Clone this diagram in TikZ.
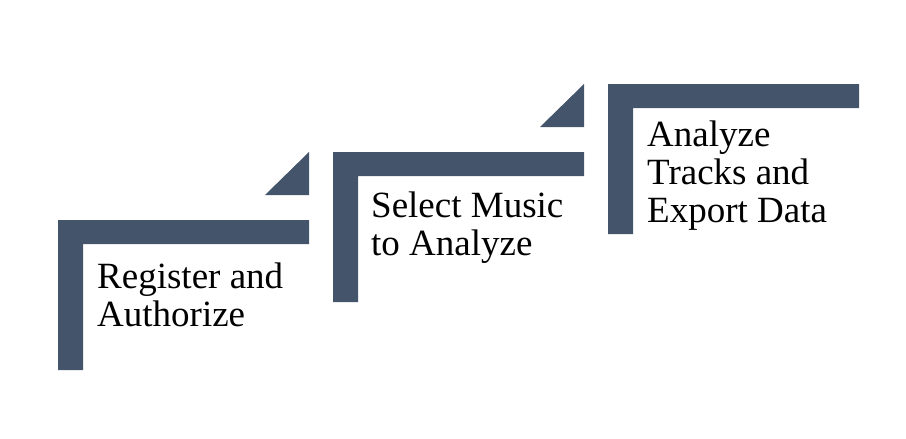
\documentclass[tikz,border=0pt]{standalone}
\usepackage{fontspec}
\setmainfont{Liberation Serif}
\definecolor{slate}{RGB}{68,84,106}

\begin{document}
\begin{tikzpicture}[x=1pt,y=-1pt]
\tikzset{stepbar/.style={fill=slate,draw=none},
  steptext/.style={anchor=base west,inner sep=0pt,align=left,
    font=\fontsize{37}{38}\selectfont}}
\useasboundingbox (0,0) rectangle (906,439);
\foreach \x/\y in {58/220,333/152,608/84}
  \fill [stepbar] (\x,\y) -- ++(251,0) -- ++(0,24) -- ++(-226,0) -- ++(0,126) -- ++(-25,0) -- cycle;
\foreach \x/\y in {58/220,333/152}
  \fill [stepbar] (\x+251,\y-68) -- ++(0,43) -- ++(-44,0) -- cycle;
\node [steptext] (reg) at (97,326) {Register and\\Authorize};
\node [steptext] (sel) at (371,255) {Select Music\\to Analyze};
\node [steptext] (ana) at (647,222) {Analyze\\Tracks and\\Export Data};
\end{tikzpicture}
\end{document}
